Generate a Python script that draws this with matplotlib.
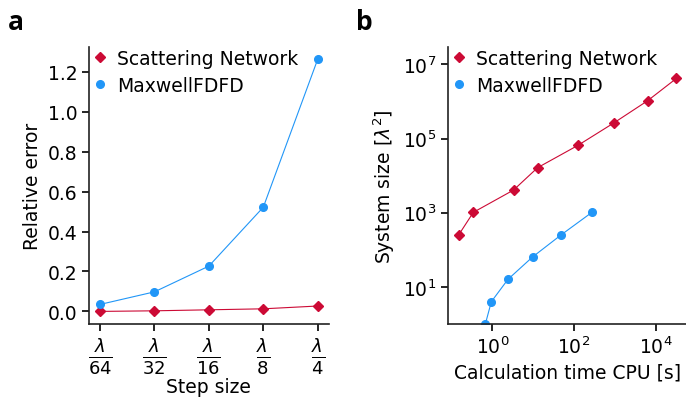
import numpy as np
import matplotlib
matplotlib.use("Agg")
import matplotlib.pyplot as plt

# panel a: relative error vs step size
step_labels = [r"$\frac{\lambda}{64}$", r"$\frac{\lambda}{32}$", r"$\frac{\lambda}{16}$",
               r"$\frac{\lambda}{8}$", r"$\frac{\lambda}{4}$"]
err_scatnet = [0.0, 0.003, 0.008, 0.013, 0.027]
err_fdfd = [0.035, 0.098, 0.227, 0.522, 1.263]

# panel b: system size vs CPU time
time_scatnet = [0.15, 0.34, 3.3, 12.8, 125, 940, 6400, 32500]
size_scatnet = [256, 1024, 4096, 16384, 65536, 262144, 1048576, 4194304]
time_fdfd = [0.67, 0.94, 2.4, 9.6, 49, 275]
size_fdfd = [1, 4, 16, 64, 256, 1024]

red = "#cc0a35"
blue = "#2196f7"

plt.rcParams["font.size"] = 13.5
plt.rcParams["axes.linewidth"] = 1.2
plt.rcParams["axes.edgecolor"] = "#222222"

fig = plt.figure(figsize=(6.86, 4.02), dpi=100)
ax1 = fig.add_axes([0.130, 0.1915, 0.349, 0.690])
ax2 = fig.add_axes([0.653, 0.1915, 0.349, 0.690])

legend_kw = dict(loc="upper left", frameon=False, handletextpad=0.4, borderaxespad=0.1,
                 borderpad=0.0, labelspacing=0.45, handlelength=1.0)

x = np.arange(len(step_labels))
ax1.plot(x, err_scatnet, "-", color=red, lw=0.8)
ax1.plot(x, err_fdfd, "-", color=blue, lw=0.8)
ax1.plot(x, err_scatnet, "D", color=red, ms=5.5, ls="none", label="Scattering Network")
ax1.plot(x, err_fdfd, "o", color=blue, ms=5.5, ls="none", label="MaxwellFDFD")
ax1.set_xticks(x)
ax1.set_xticklabels(step_labels, fontsize=18.5)
ax1.set_yticks([0.0, 0.2, 0.4, 0.6, 0.8, 1.0, 1.2])
ax1.set_ylabel("Relative error", labelpad=4)
ax1.set_xlabel("Step size", labelpad=1)
ax1.legend(**legend_kw)

ax2.plot(time_scatnet, size_scatnet, "-", color=red, lw=0.8)
ax2.plot(time_fdfd, size_fdfd, "-", color=blue, lw=0.8)
ax2.plot(time_scatnet, size_scatnet, "D", color=red, ms=5.5, ls="none", label="Scattering Network")
ax2.plot(time_fdfd, size_fdfd, "o", color=blue, ms=5.5, ls="none", label="MaxwellFDFD")
ax2.set_xscale("log")
ax2.set_yscale("log")
ax2.set_ylim(1, 3e7)
ax2.set_yticks([1e1, 1e3, 1e5, 1e7])
ax2.set_xticks([1e0, 1e2, 1e4])
ax2.minorticks_off()
ax2.set_ylabel(r"System size [$\lambda^2$]")
ax2.set_xlabel("Calculation time CPU [s]")
ax2.legend(**legend_kw)

for ax in (ax1, ax2):
    ax.spines["top"].set_visible(False)
    ax.spines["right"].set_visible(False)
    ax.tick_params(length=5, width=1.2)

fig.text(0.012, 0.925, "a", fontsize=19, fontweight="bold", family="Open Sans")
fig.text(0.519, 0.925, "b", fontsize=19, fontweight="bold", family="Open Sans")

fig.savefig("out.png", dpi=100)
